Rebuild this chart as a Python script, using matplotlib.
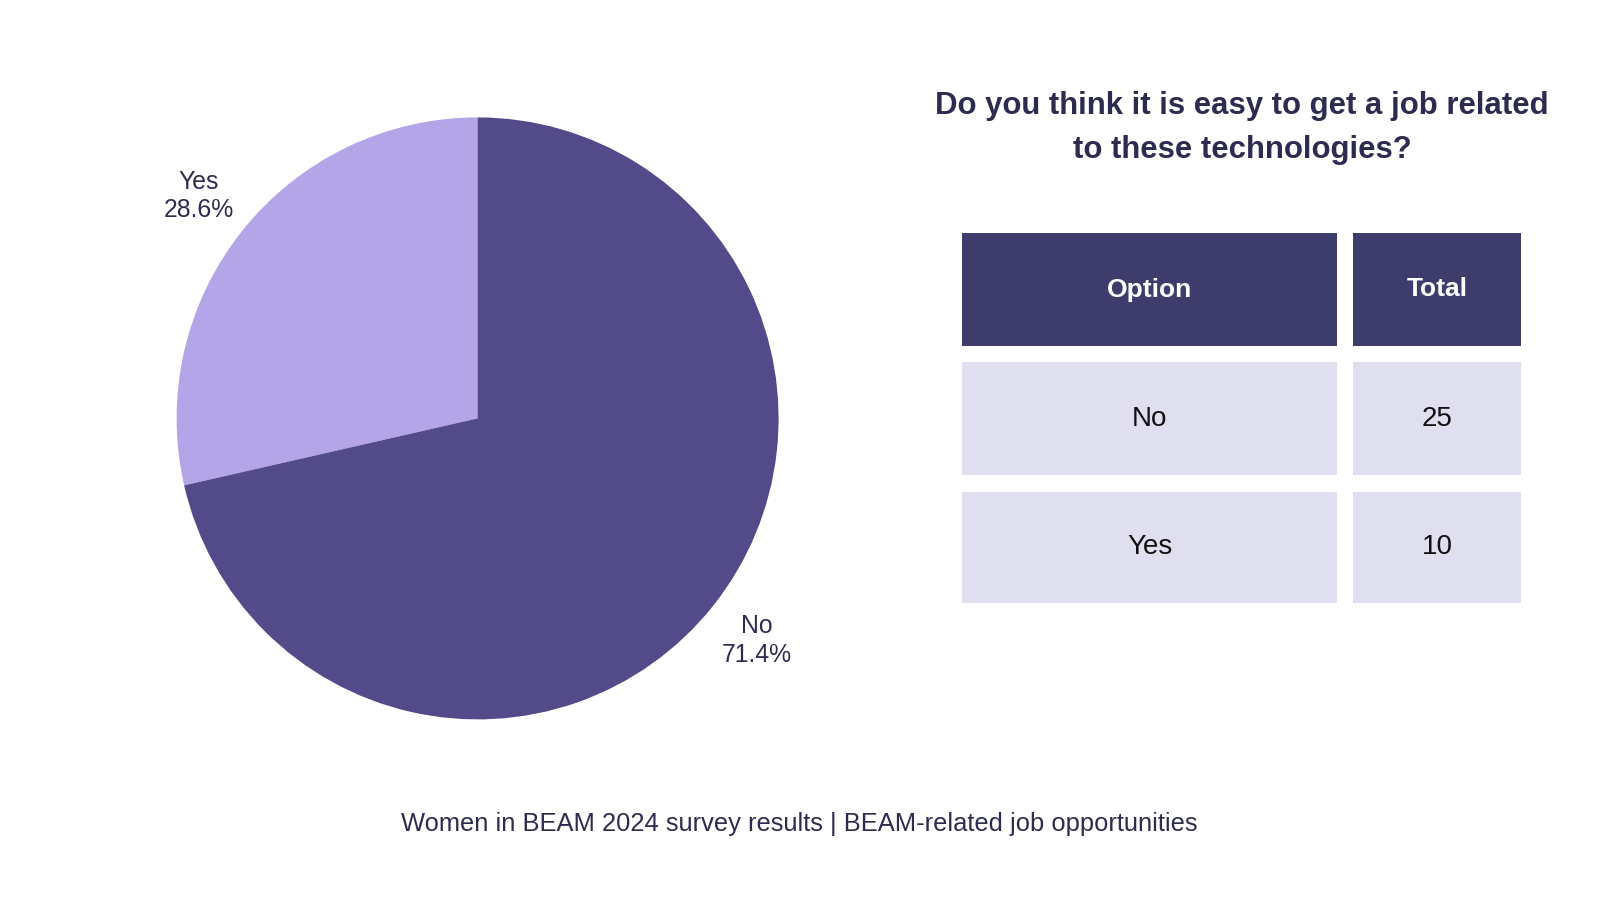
import matplotlib.pyplot as plt
from matplotlib.patches import Rectangle

plt.rcParams['font.family'] = ['Liberation Sans', 'DejaVu Sans']

# DATA
pie_labels = ["Yes", "No"]
pie_values = [10, 25]
table_header = ["Option", "Total"]
table_options = ["No", "Yes"]
table_totals = [25, 10]

title = "Do you think it is easy to get a job related\nto these technologies?"
footer = "Women in BEAM 2024 survey results | BEAM-related job opportunities"

# colours
dark = "#534a8a"
light = "#b4a5e8"
head_col = "#3d3c6b"
cell_col = "#e0dfef"
text_col = "#2d2c50"

W, H = 1600, 900
fig = plt.figure(figsize=(16, 9), dpi=100)
fig.patch.set_facecolor("white")

# PIE (pixel placement -> figure fractions)
cx, cy, r = 477.6, 418.4, 301
ax = fig.add_axes([(cx - r) / W, (H - cy - r) / H, 2 * r / W, 2 * r / H])
total = sum(pie_values)
labels = [f"{l}\n{v / total * 100:.1f}%" for l, v in zip(pie_labels, pie_values)]
wedges, texts = ax.pie(pie_values, colors=[light, dark], startangle=90,
                       counterclock=True, labels=labels, labeldistance=1.185,
                       radius=1.0, textprops=dict(fontsize=17.8, color=text_col,
                                                  ha="center", va="center",
                                                  linespacing=1.25))
ax.set_xlim(-1, 1)
ax.set_ylim(-1, 1)
ax.set_aspect("equal")
ax.axis("off")

# TABLE + texts on an overlay axes in pixel coords
ov = fig.add_axes([0, 0, 1, 1])
ov.set_xlim(0, W)
ov.set_ylim(H, 0)
ov.axis("off")

ov.text(1242, 128, title, ha="center", va="center", fontsize=22.4,
        fontweight="bold", color=text_col, linespacing=1.6)

col_x = [(962, 1337), (1353, 1521)]
row_y = [(233, 346), (362, 475), (492, 603)]

rows = [table_header] + [[o, str(t)] for o, t in zip(table_options, table_totals)]
for i, row in enumerate(rows):
    y0, y1 = row_y[i]
    for j, val in enumerate(row):
        x0, x1 = col_x[j]
        fc = head_col if i == 0 else cell_col
        ov.add_patch(Rectangle((x0, y0), x1 - x0, y1 - y0, facecolor=fc,
                               edgecolor="none"))
        ov.text((x0 + x1) / 2, (y0 + y1) / 2, val, ha="center", va="center",
                fontsize=19 if i == 0 else 20,
                fontweight="bold" if i == 0 else "normal",
                color="white" if i == 0 else "#111111")

ov.text(799, 824, footer, ha="center", va="center", fontsize=18.4, color=text_col)

fig.savefig("out.png", dpi=100, facecolor="white")
